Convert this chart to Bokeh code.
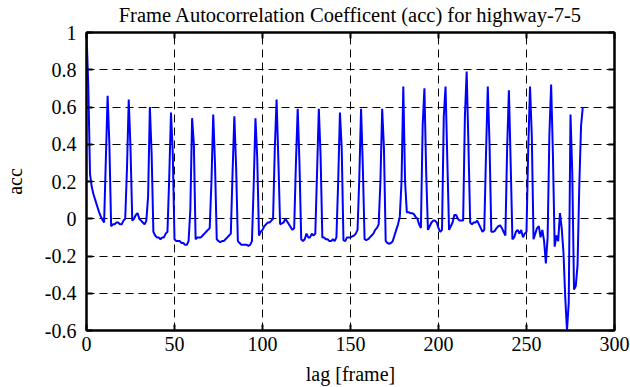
from bokeh.plotting import figure
from bokeh.models import FixedTicker, CustomJSTickFormatter, LinearAxis, Range1d
from bokeh.embed import file_html
from bokeh.resources import INLINE

title_text = "Frame Autocorrelation Coefficent (acc) for highway-7-5"
x_label = "lag [frame]"
y_label = "acc"

x_ticks = [0, 50, 100, 150, 200, 250, 300]
y_ticks = [-0.6, -0.4, -0.2, 0.0, 0.2, 0.4, 0.6, 0.8, 1.0]

acc = [
    1.00, 0.72, 0.24, 0.17, 0.13, 0.10, 0.07, 0.04, 0.015, -0.005,
    -0.02, 0.32, 0.66, 0.40, -0.04, -0.03, -0.03, -0.02, -0.02, -0.03,
    -0.03, -0.01, 0.0, 0.27, 0.64, 0.38, -0.01, 0.0, 0.02, 0.03,
    0.0, -0.01, -0.02, -0.03, -0.01, 0.12, 0.60, 0.35, -0.07, -0.09,
    -0.10, -0.10, -0.11, -0.10, -0.10, -0.08, -0.07, 0.22, 0.57, 0.36,
    -0.11, -0.12, -0.12, -0.12, -0.13, -0.13, -0.14, -0.14, -0.12, 0.05,
    0.54, 0.40, -0.11, -0.10, -0.10, -0.10, -0.09, -0.08, -0.07, -0.06,
    -0.05, 0.20, 0.56, 0.30, -0.11, -0.12, -0.125, -0.12, -0.12, -0.11,
    -0.10, -0.09, -0.08, 0.25, 0.55, 0.28, -0.12, -0.13, -0.14, -0.14,
    -0.14, -0.14, -0.145, -0.14, -0.12, 0.18, 0.54, 0.33, -0.09, -0.07,
    -0.06, -0.04, -0.03, -0.02, -0.02, -0.01, 0.0, 0.38, 0.64, 0.32,
    -0.03, -0.025, -0.02, 0.0, -0.015, -0.03, -0.045, -0.06, -0.05, 0.30,
    0.59, 0.30, -0.11, -0.12, -0.11, -0.08, -0.10, -0.10, -0.08, -0.09,
    -0.08, 0.25, 0.59, 0.34, -0.10, -0.10, -0.11, -0.11, -0.12, -0.12,
    -0.11, -0.12, -0.10, 0.20, 0.57, 0.38, -0.115, -0.12, -0.10, -0.10,
    -0.10, -0.095, -0.09, -0.08, -0.06, 0.22, 0.59, 0.28, -0.11, -0.115,
    -0.11, -0.10, -0.09, -0.08, -0.06, -0.05, -0.03, 0.20, 0.59, 0.38,
    -0.12, -0.13, -0.135, -0.13, -0.12, -0.09, -0.06, -0.03, 0.01, 0.20,
    0.71, 0.20, 0.035, 0.035, 0.03, 0.03, 0.025, 0.01, 0.0, -0.03,
    -0.05, 0.50, 0.70, 0.25, -0.06, -0.04, -0.02, -0.01, -0.01, -0.02,
    -0.05, -0.07, -0.06, 0.55, 0.71, 0.32, -0.06, -0.04, -0.02, 0.02,
    0.02, 0.0, -0.01, -0.01, -0.01, 0.55, 0.79, 0.40, -0.02, -0.03,
    -0.02, -0.02, -0.01, -0.03, -0.05, -0.07, -0.06, 0.35, 0.71, 0.40,
    -0.07, -0.07, -0.065, -0.05, -0.04, -0.035, -0.05, -0.07, -0.09, 0.38,
    0.69, 0.30, -0.11, -0.10, -0.07, -0.06, -0.08, -0.06, -0.10, -0.08,
    -0.07, 0.38, 0.71, 0.45, -0.11, -0.08, -0.05, -0.04, -0.10, -0.06,
    -0.12, -0.24, -0.10, 0.45, 0.72, 0.35, -0.15, -0.09, -0.12, 0.03,
    -0.05, -0.18, -0.42, -0.60, -0.45, 0.56, 0.25, -0.38, -0.36, -0.25,
    0.18, 0.50, 0.60,
]
lags = list(range(len(acc)))

FONT = "Liberation Serif"

p = figure(width=630, height=387, output_backend="svg", toolbar_location=None,
           x_range=Range1d(0, 300), y_range=Range1d(-0.6, 1.0),
           min_border_left=85, min_border_right=16, min_border_top=31,
           min_border_bottom=56,
           background_fill_color="white", border_fill_color="white")

p.outline_line_color = "black"
p.outline_line_width = 2
p.outline_line_alpha = 1

fmt = CustomJSTickFormatter(code="""
    if (Math.abs(tick) < 1e-9) return "0";
    var s = tick.toFixed(1);
    if (s.endsWith(".0")) s = s.slice(0, -2);
    return s;
""")

for ax, ticks in ((p.xaxis[0], x_ticks), (p.yaxis[0], y_ticks)):
    ax.ticker = FixedTicker(ticks=ticks)
    ax.formatter = fmt
    ax.major_label_text_font = FONT
    ax.major_label_text_font_size = "20px"
    ax.major_label_text_color = "black"
    ax.axis_label_text_font = FONT
    ax.axis_label_text_font_size = "20px"
    ax.axis_label_text_font_style = "normal"
    ax.axis_label_text_color = "black"
    ax.major_tick_in = 6
    ax.major_tick_out = 0
    ax.major_tick_line_width = 2
    ax.major_tick_line_color = "black"
    ax.minor_tick_line_color = None
    ax.axis_line_color = "black"
    ax.axis_line_width = 2

p.xaxis.axis_label = x_label
p.yaxis.axis_label = y_label
p.xaxis.major_label_standoff = 6
p.yaxis.major_label_standoff = 10
p.xaxis.axis_label_standoff = 9
p.yaxis.axis_label_standoff = 16

empty_fmt = CustomJSTickFormatter(code="return '';")

right_ax = LinearAxis(ticker=FixedTicker(ticks=y_ticks), formatter=empty_fmt,
                      major_tick_in=6, major_tick_out=0, major_tick_line_width=2,
                      major_tick_line_color="black", minor_tick_line_color=None,
                      axis_line_color="black", axis_line_width=2,
                      major_label_standoff=0, major_label_text_font_size="1px")
p.add_layout(right_ax, "right")

# top mirror axis; it carries the chart title as its label
top_ax = LinearAxis(ticker=FixedTicker(ticks=x_ticks), formatter=empty_fmt,
                    major_tick_in=6, major_tick_out=0, major_tick_line_width=2,
                    major_tick_line_color="black", minor_tick_line_color=None,
                    axis_line_color="black", axis_line_width=2,
                    major_label_standoff=0, major_label_text_font_size="1px",
                    axis_label=title_text, axis_label_standoff=7,
                    axis_label_text_font=FONT, axis_label_text_font_size="20.5px",
                    axis_label_text_font_style="normal",
                    axis_label_text_color="black")
p.add_layout(top_ax, "above")

for g, ticks in ((p.xgrid[0], x_ticks), (p.ygrid[0], y_ticks)):
    g.ticker = FixedTicker(ticks=ticks)
    g.grid_line_color = "black"
    g.grid_line_width = 1
    g.grid_line_dash = "8 5"
    g.grid_line_alpha = 1

p.line(lags, acc, line_color="#0000ff", line_width=2)

open("out.html", "w").write(file_html(p, INLINE))
